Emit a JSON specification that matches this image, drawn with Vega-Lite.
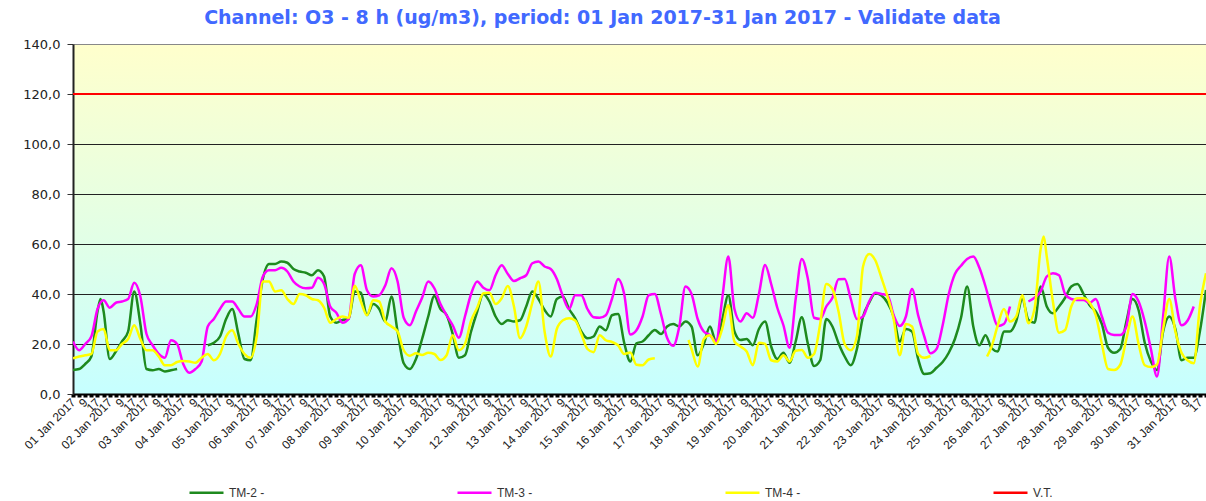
{
"$schema":"https://vega.github.io/schema/vega-lite/v6.json",
"width":1133,"height":350,
"autosize":{"type":"none"},
"padding":{"left":73,"top":44,"right":0,"bottom":107},
"background":"white",
"title":{"text":"Channel: O3 - 8 h (ug/m3), period: 01 Jan 2017-31 Jan 2017 - Validate data","font":"DejaVu Sans","fontSize":19,"fontWeight":"bold","color":"#4169FF","anchor":"middle","dx":-37,"offset":10},
"view":{"stroke":null,"fill":{"gradient":"linear","x1":0,"y1":0,"x2":0,"y2":1,"stops":[{"offset":0,"color":"#FFFFCC"},{"offset":0.55,"color":"#E2FFE6"},{"offset":1,"color":"#C6FFFF"}]}},
"config":{"font":"Liberation Sans"},
"layer":[
{"data":{"values":[
{"h":0,"s":"TM-2 -","v":9.6},{"h":4,"s":"TM-2 -","v":10},{"h":8,"s":"TM-2 -","v":12},{"h":12,"s":"TM-2 -","v":15},{"h":16,"s":"TM-2 -","v":33},{"h":18,"s":"TM-2 -","v":38},{"h":20,"s":"TM-2 -","v":33},{"h":24,"s":"TM-2 -","v":14},{"h":28,"s":"TM-2 -","v":17},{"h":32,"s":"TM-2 -","v":21},{"h":36,"s":"TM-2 -","v":25},{"h":40,"s":"TM-2 -","v":41},{"h":44,"s":"TM-2 -","v":28},{"h":48,"s":"TM-2 -","v":10},{"h":52,"s":"TM-2 -","v":9.5},{"h":56,"s":"TM-2 -","v":10},{"h":60,"s":"TM-2 -","v":9},{"h":64,"s":"TM-2 -","v":9.5},{"h":68,"s":"TM-2 -","v":10},{"h":72,"s":"TM-2 -","v":null},{"h":76,"s":"TM-2 -","v":null},{"h":80,"s":"TM-2 -","v":null},{"h":84,"s":"TM-2 -","v":null},{"h":88,"s":"TM-2 -","v":19.5},{"h":92,"s":"TM-2 -","v":20.5},{"h":96,"s":"TM-2 -","v":23},{"h":100,"s":"TM-2 -","v":30},{"h":104,"s":"TM-2 -","v":34},{"h":108,"s":"TM-2 -","v":24},{"h":112,"s":"TM-2 -","v":14},{"h":116,"s":"TM-2 -","v":13.5},{"h":120,"s":"TM-2 -","v":30},{"h":124,"s":"TM-2 -","v":46},{"h":128,"s":"TM-2 -","v":52},{"h":132,"s":"TM-2 -","v":52},{"h":136,"s":"TM-2 -","v":53},{"h":140,"s":"TM-2 -","v":52.5},{"h":144,"s":"TM-2 -","v":50},{"h":148,"s":"TM-2 -","v":49},{"h":152,"s":"TM-2 -","v":48.5},{"h":156,"s":"TM-2 -","v":47.5},{"h":160,"s":"TM-2 -","v":49.5},{"h":164,"s":"TM-2 -","v":47},{"h":168,"s":"TM-2 -","v":31},{"h":172,"s":"TM-2 -","v":28.5},{"h":176,"s":"TM-2 -","v":29.6},{"h":180,"s":"TM-2 -","v":30},{"h":184,"s":"TM-2 -","v":41},{"h":188,"s":"TM-2 -","v":40.5},{"h":192,"s":"TM-2 -","v":31.6},{"h":196,"s":"TM-2 -","v":36},{"h":200,"s":"TM-2 -","v":34},{"h":204,"s":"TM-2 -","v":29},{"h":208,"s":"TM-2 -","v":39},{"h":212,"s":"TM-2 -","v":25},{"h":216,"s":"TM-2 -","v":12.3},{"h":220,"s":"TM-2 -","v":10},{"h":224,"s":"TM-2 -","v":14},{"h":228,"s":"TM-2 -","v":22},{"h":232,"s":"TM-2 -","v":31},{"h":236,"s":"TM-2 -","v":39.2},{"h":240,"s":"TM-2 -","v":34},{"h":244,"s":"TM-2 -","v":31.6},{"h":248,"s":"TM-2 -","v":24},{"h":252,"s":"TM-2 -","v":14.5},{"h":256,"s":"TM-2 -","v":15.5},{"h":260,"s":"TM-2 -","v":25},{"h":264,"s":"TM-2 -","v":33},{"h":268,"s":"TM-2 -","v":40},{"h":272,"s":"TM-2 -","v":37},{"h":276,"s":"TM-2 -","v":31},{"h":280,"s":"TM-2 -","v":28},{"h":284,"s":"TM-2 -","v":29.5},{"h":288,"s":"TM-2 -","v":29},{"h":292,"s":"TM-2 -","v":29.5},{"h":296,"s":"TM-2 -","v":35},{"h":300,"s":"TM-2 -","v":41},{"h":304,"s":"TM-2 -","v":38},{"h":308,"s":"TM-2 -","v":33.6},{"h":312,"s":"TM-2 -","v":31},{"h":316,"s":"TM-2 -","v":38},{"h":320,"s":"TM-2 -","v":39},{"h":324,"s":"TM-2 -","v":34},{"h":328,"s":"TM-2 -","v":30.3},{"h":332,"s":"TM-2 -","v":25},{"h":336,"s":"TM-2 -","v":22.3},{"h":340,"s":"TM-2 -","v":23},{"h":344,"s":"TM-2 -","v":27},{"h":348,"s":"TM-2 -","v":25.5},{"h":352,"s":"TM-2 -","v":31.5},{"h":356,"s":"TM-2 -","v":32},{"h":360,"s":"TM-2 -","v":20.5},{"h":364,"s":"TM-2 -","v":13},{"h":368,"s":"TM-2 -","v":20.3},{"h":372,"s":"TM-2 -","v":21},{"h":376,"s":"TM-2 -","v":23.5},{"h":380,"s":"TM-2 -","v":25.6},{"h":384,"s":"TM-2 -","v":24},{"h":388,"s":"TM-2 -","v":27},{"h":392,"s":"TM-2 -","v":28},{"h":396,"s":"TM-2 -","v":27},{"h":400,"s":"TM-2 -","v":29},{"h":404,"s":"TM-2 -","v":27},{"h":408,"s":"TM-2 -","v":15.5},{"h":412,"s":"TM-2 -","v":20},{"h":416,"s":"TM-2 -","v":27},{"h":420,"s":"TM-2 -","v":21},{"h":424,"s":"TM-2 -","v":29.6},{"h":428,"s":"TM-2 -","v":39.5},{"h":432,"s":"TM-2 -","v":25},{"h":436,"s":"TM-2 -","v":21.6},{"h":440,"s":"TM-2 -","v":22},{"h":444,"s":"TM-2 -","v":19.5},{"h":448,"s":"TM-2 -","v":26},{"h":452,"s":"TM-2 -","v":29},{"h":456,"s":"TM-2 -","v":19},{"h":460,"s":"TM-2 -","v":14},{"h":464,"s":"TM-2 -","v":16.5},{"h":468,"s":"TM-2 -","v":12.5},{"h":472,"s":"TM-2 -","v":21},{"h":476,"s":"TM-2 -","v":30.7},{"h":480,"s":"TM-2 -","v":20},{"h":484,"s":"TM-2 -","v":11.2},{"h":488,"s":"TM-2 -","v":13.5},{"h":492,"s":"TM-2 -","v":30},{"h":496,"s":"TM-2 -","v":27},{"h":500,"s":"TM-2 -","v":20.3},{"h":504,"s":"TM-2 -","v":15},{"h":508,"s":"TM-2 -","v":11.5},{"h":512,"s":"TM-2 -","v":18},{"h":516,"s":"TM-2 -","v":31},{"h":520,"s":"TM-2 -","v":36.5},{"h":524,"s":"TM-2 -","v":40.3},{"h":528,"s":"TM-2 -","v":39.4},{"h":532,"s":"TM-2 -","v":36.5},{"h":536,"s":"TM-2 -","v":31},{"h":540,"s":"TM-2 -","v":21},{"h":544,"s":"TM-2 -","v":26},{"h":548,"s":"TM-2 -","v":25},{"h":552,"s":"TM-2 -","v":14},{"h":556,"s":"TM-2 -","v":8},{"h":560,"s":"TM-2 -","v":8.3},{"h":564,"s":"TM-2 -","v":10.5},{"h":568,"s":"TM-2 -","v":12.8},{"h":572,"s":"TM-2 -","v":16.5},{"h":576,"s":"TM-2 -","v":22},{"h":580,"s":"TM-2 -","v":30.5},{"h":584,"s":"TM-2 -","v":43},{"h":588,"s":"TM-2 -","v":27},{"h":592,"s":"TM-2 -","v":19.5},{"h":596,"s":"TM-2 -","v":23.5},{"h":600,"s":"TM-2 -","v":18.3},{"h":604,"s":"TM-2 -","v":17},{"h":608,"s":"TM-2 -","v":25},{"h":612,"s":"TM-2 -","v":25},{"h":616,"s":"TM-2 -","v":29},{"h":620,"s":"TM-2 -","v":38},{"h":624,"s":"TM-2 -","v":29.6},{"h":628,"s":"TM-2 -","v":28.5},{"h":632,"s":"TM-2 -","v":43},{"h":636,"s":"TM-2 -","v":35},{"h":640,"s":"TM-2 -","v":32.3},{"h":644,"s":"TM-2 -","v":35},{"h":648,"s":"TM-2 -","v":38.5},{"h":652,"s":"TM-2 -","v":43},{"h":656,"s":"TM-2 -","v":44},{"h":660,"s":"TM-2 -","v":40},{"h":664,"s":"TM-2 -","v":35.5},{"h":668,"s":"TM-2 -","v":33},{"h":672,"s":"TM-2 -","v":28},{"h":676,"s":"TM-2 -","v":18.5},{"h":680,"s":"TM-2 -","v":16.5},{"h":684,"s":"TM-2 -","v":18},{"h":688,"s":"TM-2 -","v":29},{"h":692,"s":"TM-2 -","v":38},{"h":696,"s":"TM-2 -","v":33.5},{"h":700,"s":"TM-2 -","v":20.5},{"h":704,"s":"TM-2 -","v":13},{"h":708,"s":"TM-2 -","v":9.6},{"h":712,"s":"TM-2 -","v":25},{"h":716,"s":"TM-2 -","v":31},{"h":720,"s":"TM-2 -","v":26},{"h":724,"s":"TM-2 -","v":13.5},{"h":728,"s":"TM-2 -","v":14.5},{"h":732,"s":"TM-2 -","v":14.5},{"h":736,"s":"TM-2 -","v":25},{"h":740,"s":"TM-2 -","v":41.6},
{"h":0,"s":"TM-3 -","v":21},{"h":4,"s":"TM-3 -","v":17.5},{"h":8,"s":"TM-3 -","v":20},{"h":12,"s":"TM-3 -","v":23},{"h":16,"s":"TM-3 -","v":34},{"h":20,"s":"TM-3 -","v":37.5},{"h":24,"s":"TM-3 -","v":34.5},{"h":28,"s":"TM-3 -","v":36.5},{"h":32,"s":"TM-3 -","v":37},{"h":36,"s":"TM-3 -","v":38},{"h":40,"s":"TM-3 -","v":44.5},{"h":44,"s":"TM-3 -","v":39},{"h":48,"s":"TM-3 -","v":24},{"h":52,"s":"TM-3 -","v":19.5},{"h":56,"s":"TM-3 -","v":16},{"h":60,"s":"TM-3 -","v":14.5},{"h":64,"s":"TM-3 -","v":21.5},{"h":68,"s":"TM-3 -","v":20},{"h":72,"s":"TM-3 -","v":12},{"h":76,"s":"TM-3 -","v":8.5},{"h":80,"s":"TM-3 -","v":10},{"h":84,"s":"TM-3 -","v":13},{"h":88,"s":"TM-3 -","v":27},{"h":92,"s":"TM-3 -","v":30},{"h":96,"s":"TM-3 -","v":34},{"h":100,"s":"TM-3 -","v":37},{"h":104,"s":"TM-3 -","v":37},{"h":108,"s":"TM-3 -","v":34},{"h":112,"s":"TM-3 -","v":31},{"h":116,"s":"TM-3 -","v":31},{"h":120,"s":"TM-3 -","v":36},{"h":124,"s":"TM-3 -","v":47},{"h":128,"s":"TM-3 -","v":49.5},{"h":132,"s":"TM-3 -","v":49.5},{"h":136,"s":"TM-3 -","v":50.5},{"h":140,"s":"TM-3 -","v":49},{"h":144,"s":"TM-3 -","v":45},{"h":148,"s":"TM-3 -","v":43},{"h":152,"s":"TM-3 -","v":42.3},{"h":156,"s":"TM-3 -","v":42.5},{"h":160,"s":"TM-3 -","v":46.5},{"h":164,"s":"TM-3 -","v":44},{"h":168,"s":"TM-3 -","v":35},{"h":172,"s":"TM-3 -","v":32.5},{"h":176,"s":"TM-3 -","v":28.5},{"h":180,"s":"TM-3 -","v":30},{"h":184,"s":"TM-3 -","v":48},{"h":188,"s":"TM-3 -","v":51.5},{"h":192,"s":"TM-3 -","v":41.5},{"h":196,"s":"TM-3 -","v":39},{"h":200,"s":"TM-3 -","v":39.5},{"h":204,"s":"TM-3 -","v":43.5},{"h":208,"s":"TM-3 -","v":50.3},{"h":212,"s":"TM-3 -","v":45},{"h":216,"s":"TM-3 -","v":30.5},{"h":220,"s":"TM-3 -","v":27.5},{"h":224,"s":"TM-3 -","v":33},{"h":228,"s":"TM-3 -","v":38.5},{"h":232,"s":"TM-3 -","v":45},{"h":236,"s":"TM-3 -","v":42.3},{"h":240,"s":"TM-3 -","v":36},{"h":244,"s":"TM-3 -","v":31.5},{"h":248,"s":"TM-3 -","v":27.5},{"h":252,"s":"TM-3 -","v":22.5},{"h":256,"s":"TM-3 -","v":31},{"h":260,"s":"TM-3 -","v":40},{"h":264,"s":"TM-3 -","v":45},{"h":268,"s":"TM-3 -","v":42.5},{"h":272,"s":"TM-3 -","v":41.5},{"h":276,"s":"TM-3 -","v":47.5},{"h":280,"s":"TM-3 -","v":51.5},{"h":284,"s":"TM-3 -","v":48},{"h":288,"s":"TM-3 -","v":45.2},{"h":292,"s":"TM-3 -","v":46.3},{"h":296,"s":"TM-3 -","v":47.5},{"h":300,"s":"TM-3 -","v":52.3},{"h":304,"s":"TM-3 -","v":53},{"h":308,"s":"TM-3 -","v":51},{"h":312,"s":"TM-3 -","v":50},{"h":316,"s":"TM-3 -","v":46},{"h":320,"s":"TM-3 -","v":39},{"h":324,"s":"TM-3 -","v":34},{"h":328,"s":"TM-3 -","v":39.5},{"h":332,"s":"TM-3 -","v":39.5},{"h":336,"s":"TM-3 -","v":34},{"h":340,"s":"TM-3 -","v":30.7},{"h":344,"s":"TM-3 -","v":30.5},{"h":348,"s":"TM-3 -","v":31.5},{"h":352,"s":"TM-3 -","v":38},{"h":356,"s":"TM-3 -","v":46},{"h":360,"s":"TM-3 -","v":40},{"h":364,"s":"TM-3 -","v":23.8},{"h":368,"s":"TM-3 -","v":25.5},{"h":372,"s":"TM-3 -","v":31},{"h":376,"s":"TM-3 -","v":39.5},{"h":380,"s":"TM-3 -","v":40},{"h":384,"s":"TM-3 -","v":32},{"h":388,"s":"TM-3 -","v":22.5},{"h":392,"s":"TM-3 -","v":19.3},{"h":396,"s":"TM-3 -","v":27},{"h":400,"s":"TM-3 -","v":43},{"h":404,"s":"TM-3 -","v":40},{"h":408,"s":"TM-3 -","v":30},{"h":412,"s":"TM-3 -","v":25},{"h":416,"s":"TM-3 -","v":23.6},{"h":420,"s":"TM-3 -","v":21},{"h":424,"s":"TM-3 -","v":38},{"h":428,"s":"TM-3 -","v":55},{"h":432,"s":"TM-3 -","v":34},{"h":436,"s":"TM-3 -","v":29},{"h":440,"s":"TM-3 -","v":32.3},{"h":444,"s":"TM-3 -","v":30.5},{"h":448,"s":"TM-3 -","v":40},{"h":452,"s":"TM-3 -","v":51.6},{"h":456,"s":"TM-3 -","v":44},{"h":460,"s":"TM-3 -","v":34.5},{"h":464,"s":"TM-3 -","v":27.5},{"h":468,"s":"TM-3 -","v":18.5},{"h":472,"s":"TM-3 -","v":38},{"h":476,"s":"TM-3 -","v":54},{"h":480,"s":"TM-3 -","v":46},{"h":484,"s":"TM-3 -","v":30.5},{"h":488,"s":"TM-3 -","v":30},{"h":492,"s":"TM-3 -","v":35},{"h":496,"s":"TM-3 -","v":38.5},{"h":500,"s":"TM-3 -","v":45.9},{"h":504,"s":"TM-3 -","v":46},{"h":508,"s":"TM-3 -","v":38},{"h":512,"s":"TM-3 -","v":30},{"h":516,"s":"TM-3 -","v":31},{"h":520,"s":"TM-3 -","v":37},{"h":524,"s":"TM-3 -","v":40.5},{"h":528,"s":"TM-3 -","v":40},{"h":532,"s":"TM-3 -","v":39.5},{"h":536,"s":"TM-3 -","v":31.5},{"h":540,"s":"TM-3 -","v":27.2},{"h":544,"s":"TM-3 -","v":31},{"h":548,"s":"TM-3 -","v":42},{"h":552,"s":"TM-3 -","v":31.5},{"h":556,"s":"TM-3 -","v":23},{"h":560,"s":"TM-3 -","v":16.3},{"h":564,"s":"TM-3 -","v":18},{"h":568,"s":"TM-3 -","v":27.5},{"h":572,"s":"TM-3 -","v":40},{"h":576,"s":"TM-3 -","v":48},{"h":580,"s":"TM-3 -","v":51.3},{"h":584,"s":"TM-3 -","v":54},{"h":588,"s":"TM-3 -","v":55},{"h":592,"s":"TM-3 -","v":50.5},{"h":596,"s":"TM-3 -","v":43},{"h":600,"s":"TM-3 -","v":34},{"h":604,"s":"TM-3 -","v":27.2},{"h":608,"s":"TM-3 -","v":28},{"h":612,"s":"TM-3 -","v":35},{"h":616,"s":"TM-3 -","v":null},{"h":620,"s":"TM-3 -","v":null},{"h":624,"s":"TM-3 -","v":37},{"h":628,"s":"TM-3 -","v":38.5},{"h":632,"s":"TM-3 -","v":41},{"h":636,"s":"TM-3 -","v":47},{"h":640,"s":"TM-3 -","v":48.3},{"h":644,"s":"TM-3 -","v":47.5},{"h":648,"s":"TM-3 -","v":40},{"h":652,"s":"TM-3 -","v":38},{"h":656,"s":"TM-3 -","v":37.6},{"h":660,"s":"TM-3 -","v":37.6},{"h":664,"s":"TM-3 -","v":36.5},{"h":668,"s":"TM-3 -","v":38},{"h":672,"s":"TM-3 -","v":31},{"h":676,"s":"TM-3 -","v":24.5},{"h":680,"s":"TM-3 -","v":23.6},{"h":684,"s":"TM-3 -","v":23.6},{"h":688,"s":"TM-3 -","v":27},{"h":692,"s":"TM-3 -","v":40},{"h":696,"s":"TM-3 -","v":37},{"h":700,"s":"TM-3 -","v":29},{"h":704,"s":"TM-3 -","v":18},{"h":708,"s":"TM-3 -","v":7},{"h":712,"s":"TM-3 -","v":31},{"h":716,"s":"TM-3 -","v":55},{"h":720,"s":"TM-3 -","v":38},{"h":724,"s":"TM-3 -","v":27.5},{"h":728,"s":"TM-3 -","v":29.4},{"h":732,"s":"TM-3 -","v":35},
{"h":0,"s":"TM-4 -","v":14.3},{"h":4,"s":"TM-4 -","v":15},{"h":8,"s":"TM-4 -","v":15.5},{"h":12,"s":"TM-4 -","v":16},{"h":16,"s":"TM-4 -","v":25},{"h":20,"s":"TM-4 -","v":26},{"h":24,"s":"TM-4 -","v":17.5},{"h":28,"s":"TM-4 -","v":17.5},{"h":32,"s":"TM-4 -","v":20},{"h":36,"s":"TM-4 -","v":22},{"h":40,"s":"TM-4 -","v":27.5},{"h":44,"s":"TM-4 -","v":22},{"h":48,"s":"TM-4 -","v":17.5},{"h":52,"s":"TM-4 -","v":17.5},{"h":56,"s":"TM-4 -","v":15},{"h":60,"s":"TM-4 -","v":11.5},{"h":64,"s":"TM-4 -","v":11.5},{"h":68,"s":"TM-4 -","v":12.8},{"h":72,"s":"TM-4 -","v":13.2},{"h":76,"s":"TM-4 -","v":13},{"h":80,"s":"TM-4 -","v":12.5},{"h":84,"s":"TM-4 -","v":14.5},{"h":88,"s":"TM-4 -","v":16},{"h":92,"s":"TM-4 -","v":13.5},{"h":96,"s":"TM-4 -","v":16},{"h":100,"s":"TM-4 -","v":23},{"h":104,"s":"TM-4 -","v":25.5},{"h":108,"s":"TM-4 -","v":20},{"h":112,"s":"TM-4 -","v":16},{"h":116,"s":"TM-4 -","v":14.5},{"h":120,"s":"TM-4 -","v":23},{"h":124,"s":"TM-4 -","v":45},{"h":128,"s":"TM-4 -","v":45},{"h":132,"s":"TM-4 -","v":41},{"h":136,"s":"TM-4 -","v":41.5},{"h":140,"s":"TM-4 -","v":38},{"h":144,"s":"TM-4 -","v":36},{"h":148,"s":"TM-4 -","v":40},{"h":152,"s":"TM-4 -","v":39.5},{"h":156,"s":"TM-4 -","v":38},{"h":160,"s":"TM-4 -","v":37.5},{"h":164,"s":"TM-4 -","v":34.5},{"h":168,"s":"TM-4 -","v":28.5},{"h":172,"s":"TM-4 -","v":30},{"h":176,"s":"TM-4 -","v":31},{"h":180,"s":"TM-4 -","v":30.5},{"h":184,"s":"TM-4 -","v":43.3},{"h":188,"s":"TM-4 -","v":37},{"h":192,"s":"TM-4 -","v":31.5},{"h":196,"s":"TM-4 -","v":37.5},{"h":200,"s":"TM-4 -","v":37},{"h":204,"s":"TM-4 -","v":29},{"h":208,"s":"TM-4 -","v":27},{"h":212,"s":"TM-4 -","v":25},{"h":216,"s":"TM-4 -","v":17.5},{"h":220,"s":"TM-4 -","v":15.3},{"h":224,"s":"TM-4 -","v":16.3},{"h":228,"s":"TM-4 -","v":15.6},{"h":232,"s":"TM-4 -","v":16.5},{"h":236,"s":"TM-4 -","v":16},{"h":240,"s":"TM-4 -","v":13.6},{"h":244,"s":"TM-4 -","v":15.5},{"h":248,"s":"TM-4 -","v":23.5},{"h":252,"s":"TM-4 -","v":17.5},{"h":256,"s":"TM-4 -","v":20},{"h":260,"s":"TM-4 -","v":29.3},{"h":264,"s":"TM-4 -","v":34.5},{"h":268,"s":"TM-4 -","v":40.3},{"h":272,"s":"TM-4 -","v":40.5},{"h":276,"s":"TM-4 -","v":36},{"h":280,"s":"TM-4 -","v":38.3},{"h":284,"s":"TM-4 -","v":43.2},{"h":288,"s":"TM-4 -","v":35},{"h":292,"s":"TM-4 -","v":22.3},{"h":296,"s":"TM-4 -","v":27},{"h":300,"s":"TM-4 -","v":36.5},{"h":304,"s":"TM-4 -","v":45},{"h":308,"s":"TM-4 -","v":25},{"h":312,"s":"TM-4 -","v":15},{"h":316,"s":"TM-4 -","v":26},{"h":320,"s":"TM-4 -","v":29.5},{"h":324,"s":"TM-4 -","v":30.3},{"h":328,"s":"TM-4 -","v":29.4},{"h":332,"s":"TM-4 -","v":24},{"h":336,"s":"TM-4 -","v":18},{"h":340,"s":"TM-4 -","v":16.7},{"h":344,"s":"TM-4 -","v":23.5},{"h":348,"s":"TM-4 -","v":21.5},{"h":352,"s":"TM-4 -","v":20.8},{"h":356,"s":"TM-4 -","v":19.5},{"h":360,"s":"TM-4 -","v":16},{"h":364,"s":"TM-4 -","v":16.6},{"h":368,"s":"TM-4 -","v":11.7},{"h":372,"s":"TM-4 -","v":11.5},{"h":376,"s":"TM-4 -","v":13.8},{"h":380,"s":"TM-4 -","v":14.3},{"h":384,"s":"TM-4 -","v":null},{"h":388,"s":"TM-4 -","v":null},{"h":392,"s":"TM-4 -","v":null},{"h":396,"s":"TM-4 -","v":null},{"h":400,"s":"TM-4 -","v":null},{"h":402,"s":"TM-4 -","v":21.6},{"h":404,"s":"TM-4 -","v":18},{"h":408,"s":"TM-4 -","v":11},{"h":412,"s":"TM-4 -","v":22},{"h":416,"s":"TM-4 -","v":23.5},{"h":420,"s":"TM-4 -","v":20},{"h":424,"s":"TM-4 -","v":26},{"h":428,"s":"TM-4 -","v":35.5},{"h":432,"s":"TM-4 -","v":21},{"h":436,"s":"TM-4 -","v":19},{"h":440,"s":"TM-4 -","v":17},{"h":444,"s":"TM-4 -","v":11.5},{"h":448,"s":"TM-4 -","v":20.5},{"h":452,"s":"TM-4 -","v":20},{"h":456,"s":"TM-4 -","v":13.5},{"h":460,"s":"TM-4 -","v":13},{"h":464,"s":"TM-4 -","v":15.5},{"h":468,"s":"TM-4 -","v":13},{"h":472,"s":"TM-4 -","v":17.3},{"h":476,"s":"TM-4 -","v":17.6},{"h":480,"s":"TM-4 -","v":14.5},{"h":484,"s":"TM-4 -","v":16},{"h":488,"s":"TM-4 -","v":28},{"h":492,"s":"TM-4 -","v":44},{"h":496,"s":"TM-4 -","v":42},{"h":500,"s":"TM-4 -","v":33},{"h":504,"s":"TM-4 -","v":20},{"h":508,"s":"TM-4 -","v":17.5},{"h":512,"s":"TM-4 -","v":23},{"h":516,"s":"TM-4 -","v":51},{"h":520,"s":"TM-4 -","v":56},{"h":524,"s":"TM-4 -","v":53.5},{"h":528,"s":"TM-4 -","v":46.5},{"h":532,"s":"TM-4 -","v":39},{"h":536,"s":"TM-4 -","v":30},{"h":540,"s":"TM-4 -","v":15.5},{"h":544,"s":"TM-4 -","v":28},{"h":548,"s":"TM-4 -","v":27},{"h":552,"s":"TM-4 -","v":16},{"h":556,"s":"TM-4 -","v":14.5},{"h":560,"s":"TM-4 -","v":15.2},{"h":564,"s":"TM-4 -","v":null},{"h":568,"s":"TM-4 -","v":null},{"h":572,"s":"TM-4 -","v":null},{"h":576,"s":"TM-4 -","v":null},{"h":580,"s":"TM-4 -","v":null},{"h":584,"s":"TM-4 -","v":null},{"h":588,"s":"TM-4 -","v":null},{"h":592,"s":"TM-4 -","v":null},{"h":596,"s":"TM-4 -","v":null},{"h":597,"s":"TM-4 -","v":15},{"h":600,"s":"TM-4 -","v":19},{"h":604,"s":"TM-4 -","v":27.5},{"h":608,"s":"TM-4 -","v":34},{"h":612,"s":"TM-4 -","v":29},{"h":616,"s":"TM-4 -","v":31},{"h":620,"s":"TM-4 -","v":39.5},{"h":624,"s":"TM-4 -","v":28.3},{"h":628,"s":"TM-4 -","v":34},{"h":632,"s":"TM-4 -","v":58},{"h":634,"s":"TM-4 -","v":63},{"h":636,"s":"TM-4 -","v":55},{"h":640,"s":"TM-4 -","v":37},{"h":644,"s":"TM-4 -","v":24.5},{"h":648,"s":"TM-4 -","v":25.6},{"h":652,"s":"TM-4 -","v":35},{"h":656,"s":"TM-4 -","v":38.3},{"h":660,"s":"TM-4 -","v":38.3},{"h":664,"s":"TM-4 -","v":36.5},{"h":668,"s":"TM-4 -","v":31.5},{"h":672,"s":"TM-4 -","v":20},{"h":676,"s":"TM-4 -","v":10},{"h":680,"s":"TM-4 -","v":9.6},{"h":684,"s":"TM-4 -","v":11.7},{"h":688,"s":"TM-4 -","v":22},{"h":692,"s":"TM-4 -","v":31},{"h":696,"s":"TM-4 -","v":20},{"h":700,"s":"TM-4 -","v":11.5},{"h":704,"s":"TM-4 -","v":10.8},{"h":708,"s":"TM-4 -","v":11.8},{"h":712,"s":"TM-4 -","v":26},{"h":716,"s":"TM-4 -","v":38},{"h":720,"s":"TM-4 -","v":25},{"h":724,"s":"TM-4 -","v":16.5},{"h":728,"s":"TM-4 -","v":13.5},{"h":732,"s":"TM-4 -","v":12.3},{"h":736,"s":"TM-4 -","v":35},{"h":740,"s":"TM-4 -","v":48.3}
]},
"mark":{"type":"line","strokeWidth":2.5,"interpolate":"monotone","invalid":"break-paths-show-domains","clip":true},
"encoding":{
"x":{"field":"h","type":"quantitative","scale":{"domain":[0,740],"nice":false,"zero":false},
"axis":{"title":null,"grid":false,"values":[0,4,8,12,16,20,24,28,32,36,40,44,48,52,56,60,64,68,72,76,80,84,88,92,96,100,104,108,112,116,120,124,128,132,136,140,144,148,152,156,160,164,168,172,176,180,184,188,192,196,200,204,208,212,216,220,224,228,232,236,240,244,248,252,256,260,264,268,272,276,280,284,288,292,296,300,304,308,312,316,320,324,328,332,336,340,344,348,352,356,360,364,368,372,376,380,384,388,392,396,400,404,408,412,416,420,424,428,432,436,440,444,448,452,456,460,464,468,472,476,480,484,488,492,496,500,504,508,512,516,520,524,528,532,536,540,544,548,552,556,560,564,568,572,576,580,584,588,592,596,600,604,608,612,616,620,624,628,632,636,640,644,648,652,656,660,664,668,672,676,680,684,688,692,696,700,704,708,712,716,720,724,728,732,736,740],
"labelExpr":"datum.value % 8 != 0 ? '' : (datum.value % 24 == 0 ? ((floor(datum.value/24)+1 < 10 ? '0' : '') + (floor(datum.value/24)+1) + ' Jan 2017') : '' + (datum.value % 24 + 1))",
"labelAngle":-45,"labelAlign":"right","labelBaseline":"middle","labelOverlap":false,"labelFlush":false,"labelBound":false,
"labelFont":"Liberation Sans","labelFontSize":12,"labelColor":"#222222","labelPadding":3,
"tickSize":3,"tickWidth":4,"tickColor":"#000000","domainColor":"#000000","domainWidth":2}},
"y":{"field":"v","type":"quantitative","scale":{"domain":[0,140],"nice":false,"zero":true},
"axis":{"title":null,"values":[0,20,40,60,80,100,120,140],"labelExpr":"replace(format(datum.value,'.1f'),'.',',')",
"labelFont":"DejaVu Sans","labelFontSize":13,"labelColor":"#222222","labelPadding":7,"tickSize":6,"tickColor":"#333333","domainColor":"#222222","domainWidth":2,
"grid":true,"gridColor":{"condition":{"test":"datum.value == 140","value":"#888888"},"value":"#222222"},"gridWidth":1}},
"color":{"field":"s","type":"nominal","scale":{"domain":["TM-2 -","TM-3 -","TM-4 -","V.T."],"range":["#1E8A1E","#FF00FF","#FFFF00","#FF0000"]},
"legend":{"title":null,"orient":"none","legendX":115,"legendY":430,"direction":"horizontal","columns":4,"symbolType":"stroke","symbolSize":1156,"symbolStrokeWidth":2.5,"labelFont":"Liberation Sans","labelFontSize":12,"labelColor":"#333333","labelOffset":4,"columnPadding":187,"gridAlign":"all","padding":0}}
}},
{"data":{"values":[{"limit":120,"s":"V.T."}]},
"mark":{"type":"rule","strokeWidth":2},
"encoding":{"y":{"field":"limit","type":"quantitative","scale":{"domain":[0,140],"nice":false}},
"color":{"field":"s","type":"nominal"}}}
]
}
